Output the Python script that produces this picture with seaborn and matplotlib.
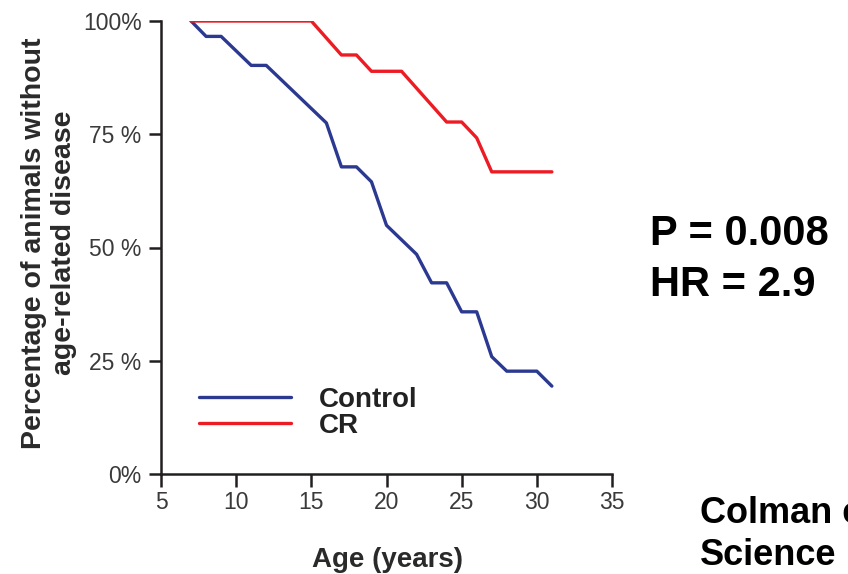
import matplotlib
matplotlib.use("Agg")
import matplotlib.pyplot as plt
import seaborn as sns
import pandas as pd

# ---- data ----
ages_control = [7, 8, 9, 11, 12, 16, 17, 18, 19, 20, 22, 23, 24, 25, 26, 27, 28, 30, 31]
pct_control = [100, 96.6, 96.6, 90.2, 90.2, 77.5, 67.8, 67.8, 64.5, 54.9, 48.5,
               42.2, 42.2, 35.8, 35.8, 25.9, 22.7, 22.7, 19.4]
ages_cr = [7, 15, 17, 18, 19, 21, 24, 25, 26, 27, 31]
pct_cr = [100, 100, 92.5, 92.5, 88.9, 88.9, 77.7, 77.7, 74.2, 66.7, 66.7]
groups = ["Control", "CR"]
x_ticks = [5, 10, 15, 20, 25, 30, 35]
y_ticks = [0, 25, 50, 75, 100]
y_tick_labels = ["0%", "25 %", "50 %", "75 %", "100%"]
stats_text = ["P = 0.008", "HR = 2.9"]
ref_text = ["Colman et al.", "Science"]

df = pd.concat([
    pd.DataFrame({"Age": ages_control, "Pct": pct_control, "Group": groups[0]}),
    pd.DataFrame({"Age": ages_cr, "Pct": pct_cr, "Group": groups[1]}),
], ignore_index=True)

sns.set_style("ticks")
plt.rcParams["font.family"] = ["Liberation Sans", "DejaVu Sans"]

W, H = 848, 574
fig = plt.figure(figsize=(W / 100, H / 100), dpi=100)
ax = fig.add_axes([161 / W, 1 - 474 / H, (612 - 161) / W, (474 - 21) / H])

palette = {"Control": "#2b3990", "CR": "#ed1c24"}
sns.lineplot(data=df, x="Age", y="Pct", hue="Group", hue_order=groups,
             palette=palette, linewidth=2.4, ax=ax, sort=False, estimator=None)

ax.set_xlim(5, 35)
ax.set_ylim(0, 100)
ax.set_xticks(x_ticks)
ax.set_yticks(y_ticks)
ax.set_yticklabels(y_tick_labels)
ax.set_xlabel("")
ax.set_ylabel("")
for s in ["top", "right"]:
    ax.spines[s].set_visible(False)
for s in ["left", "bottom"]:
    ax.spines[s].set_linewidth(1.8)
    ax.spines[s].set_color("#231f20")
ax.tick_params(axis="both", direction="out", length=9, width=1.8, color="#231f20",
               labelsize=16.5, labelcolor="#3a3a3a")
ax.tick_params(axis="y", pad=5)
ax.tick_params(axis="x", pad=3)

leg = ax.legend(loc="center left", bbox_to_anchor=((199 - 161) / 451, (474 - 413) / 453),
                frameon=False, borderpad=0, borderaxespad=0, handlelength=3.3,
                handletextpad=1.0, labelspacing=0.0,
                prop={"weight": "bold", "size": 20})
for t in leg.get_texts():
    t.set_color("#222222")
for l in leg.get_lines():
    l.set_linewidth(2.4)

fig.text(388 / W, 1 - 567 / H, "Age (years)", ha="center", va="baseline",
         fontsize=20, fontweight="bold", color="#2a2a2a")
fig.text(49 / W, 1 - 243 / H, "Percentage of animals without\nage-related disease",
         rotation=90, ha="center", va="center", multialignment="center",
         fontsize=20.5, fontweight="bold", color="#2a2a2a", linespacing=1.22)

fig.text(650 / W, 1 - 245 / H, stats_text[0], ha="left", va="baseline",
         fontsize=30, fontweight="bold", color="black")
fig.text(650 / W, 1 - 296 / H, stats_text[1], ha="left", va="baseline",
         fontsize=30, fontweight="bold", color="black")
fig.text(700 / W, 1 - 523 / H, ref_text[0], ha="left", va="baseline",
         fontsize=26, fontweight="bold", color="black")
fig.text(700 / W, 1 - 565 / H, ref_text[1], ha="left", va="baseline",
         fontsize=26, fontweight="bold", color="black")

fig.savefig("out.png", dpi=100)
